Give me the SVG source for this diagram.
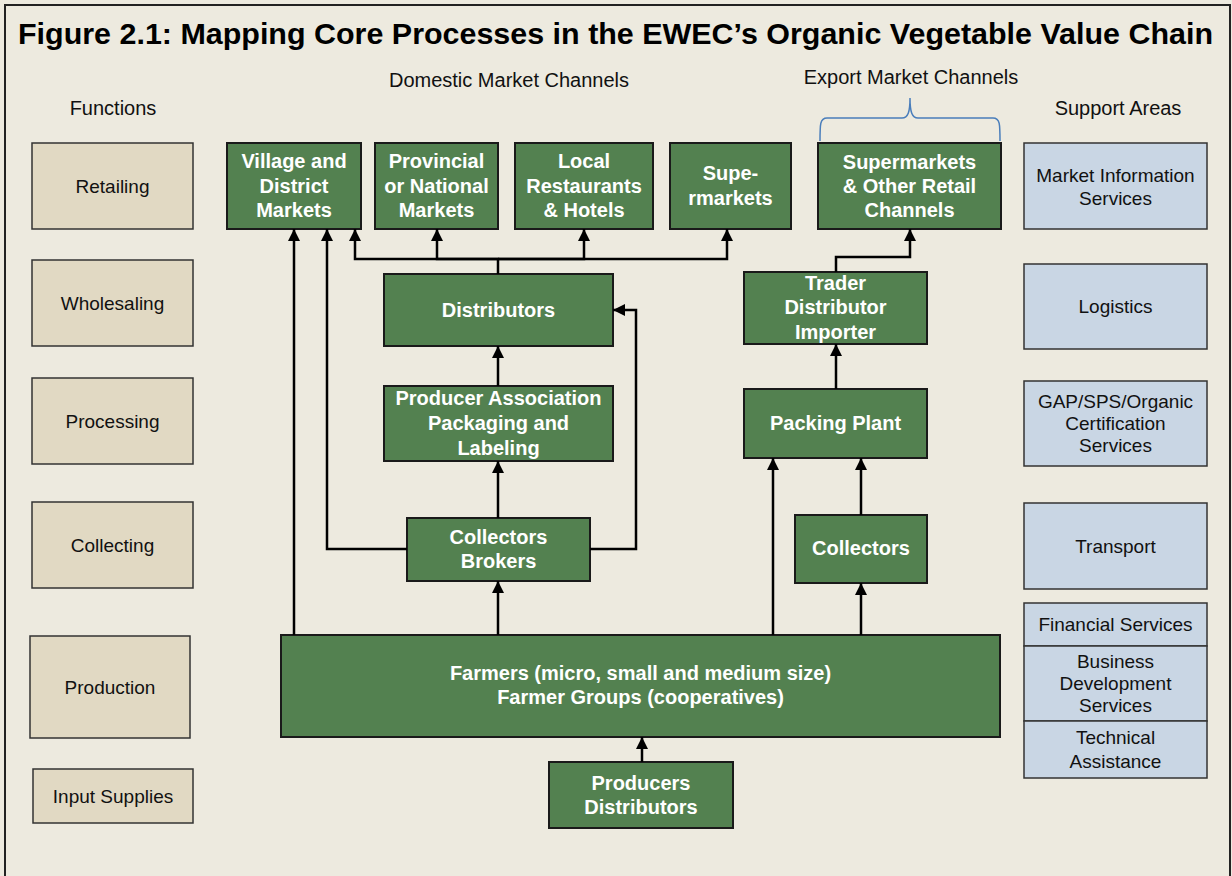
<svg xmlns="http://www.w3.org/2000/svg" width="1232" height="876" viewBox="0 0 1232 876">
<defs>
<marker id="ah" markerUnits="userSpaceOnUse" markerWidth="12" markerHeight="12" refX="12" refY="6" orient="auto">
<path d="M0,0 L12,6 L0,12 z" fill="#000"/>
</marker>
<style>
.g rect{fill:#538150;stroke:#1a1a1a;stroke-width:2}
.g text{font-family:"Liberation Sans",Arial,sans-serif;font-weight:bold;font-size:20px;fill:#fff;text-anchor:middle}
.t rect{fill:#E1D9C3;stroke:#333;stroke-width:1.5}
.b rect{fill:#C9D6E4;stroke:#333;stroke-width:1.5}
.t text,.b text,.lbl{font-family:"Liberation Sans",Arial,sans-serif;font-size:19px;fill:#111;text-anchor:middle}
.c path{fill:none;stroke:#000;stroke-width:2.5}
.c path.a{marker-end:url(#ah)}
</style>
</defs>
<rect x="0" y="0" width="1232" height="876" fill="#EDEADF"/>
<rect x="5" y="5" width="1225" height="900" fill="none" stroke="#222" stroke-width="2"/>
<text x="18" y="44" font-family="Liberation Sans,Arial,sans-serif" font-weight="bold" font-size="30" fill="#000" textLength="1195" lengthAdjust="spacingAndGlyphs">Figure 2.1: Mapping Core Processes in the EWEC’s Organic Vegetable Value Chain</text>
<text class="lbl" x="509" y="87" style="font-size:20px">Domestic Market Channels</text>
<text class="lbl" x="911" y="84" style="font-size:20px">Export Market Channels</text>
<text class="lbl" x="113" y="115" style="font-size:20px">Functions</text>
<text class="lbl" x="1118" y="115" style="font-size:20px">Support Areas</text>
<path d="M820,141 C820,124 820,118 827,118 H902 C908,118 910,112 910,98 C910,112 912,118 918,118 H993 C1000,118 1000,124 1000,141" fill="none" stroke="#4A7EBB" stroke-width="1.5"/>

<g id="fn-retailing" class="t"><rect x="32" y="143" width="161" height="86"/><text x="112.5" y="193">Retailing</text></g>
<g id="fn-wholesaling" class="t"><rect x="32" y="260" width="161" height="86"/><text x="112.5" y="310">Wholesaling</text></g>
<g id="fn-processing" class="t"><rect x="32" y="378" width="161" height="86"/><text x="112.5" y="428">Processing</text></g>
<g id="fn-collecting" class="t"><rect x="32" y="502" width="161" height="86"/><text x="112.5" y="552">Collecting</text></g>
<g id="fn-production" class="t"><rect x="30" y="636" width="160" height="102"/><text x="110" y="694">Production</text></g>
<g id="fn-input" class="t"><rect x="33" y="769" width="160" height="54"/><text x="113" y="803">Input Supplies</text></g>

<g id="sa-market-info" class="b"><rect x="1024" y="143" width="183" height="86"/><text x="1115.5" y="182">Market Information</text><text x="1115.5" y="205">Services</text></g>
<g id="sa-logistics" class="b"><rect x="1024" y="264" width="183" height="85"/><text x="1115.5" y="313">Logistics</text></g>
<g id="sa-gap" class="b"><rect x="1024" y="381" width="183" height="85"/><text x="1115.5" y="408">GAP/SPS/Organic</text><text x="1115.5" y="430">Certification</text><text x="1115.5" y="452">Services</text></g>
<g id="sa-transport" class="b"><rect x="1024" y="503" width="183" height="86"/><text x="1115.5" y="553">Transport</text></g>
<g id="sa-financial" class="b"><rect x="1024" y="603" width="183" height="43"/><text x="1115.5" y="631">Financial Services</text></g>
<g id="sa-bds" class="b"><rect x="1024" y="646" width="183" height="75"/><text x="1115.5" y="668">Business</text><text x="1115.5" y="690">Development</text><text x="1115.5" y="712">Services</text></g>
<g id="sa-ta" class="b"><rect x="1024" y="721" width="183" height="57"/><text x="1115.5" y="744">Technical</text><text x="1115.5" y="768">Assistance</text></g>

<g id="village" class="g"><rect x="227" y="143" width="134" height="86"/><text x="294" y="168">Village and</text><text x="294" y="193">District</text><text x="294" y="217">Markets</text></g>
<g id="provincial" class="g"><rect x="375" y="143" width="123" height="86"/><text x="436.5" y="168">Provincial</text><text x="436.5" y="193">or National</text><text x="436.5" y="217">Markets</text></g>
<g id="local" class="g"><rect x="515" y="143" width="138" height="86"/><text x="584" y="168">Local</text><text x="584" y="193">Restaurants</text><text x="584" y="217">&amp; Hotels</text></g>
<g id="supermarkets-dom" class="g"><rect x="670" y="143" width="121" height="86"/><text x="730.5" y="180">Supe-</text><text x="730.5" y="205">rmarkets</text></g>
<g id="supermarkets-exp" class="g"><rect x="818" y="143" width="183" height="86"/><text x="909.5" y="169">Supermarkets</text><text x="909.5" y="193">&amp; Other Retail</text><text x="909.5" y="217">Channels</text></g>
<g id="distributors" class="g"><rect x="384" y="274" width="229" height="72"/><text x="498.5" y="317">Distributors</text></g>
<g id="trader" class="g"><rect x="744" y="272" width="183" height="72"/><text x="835.5" y="290">Trader</text><text x="835.5" y="314">Distributor</text><text x="835.5" y="339">Importer</text></g>
<g id="producer-assoc" class="g"><rect x="384" y="386" width="229" height="75"/><text x="498.5" y="405">Producer Association</text><text x="498.5" y="430">Packaging and</text><text x="498.5" y="455">Labeling</text></g>
<g id="packing" class="g"><rect x="744" y="389" width="183" height="69"/><text x="835.5" y="430">Packing Plant</text></g>
<g id="collectors-brokers" class="g"><rect x="407" y="518" width="183" height="63"/><text x="498.5" y="544">Collectors</text><text x="498.5" y="568">Brokers</text></g>
<g id="collectors" class="g"><rect x="795" y="515" width="132" height="68"/><text x="861" y="555">Collectors</text></g>
<g id="farmers" class="g"><rect x="281" y="635" width="719" height="102"/><text x="640.5" y="680">Farmers (micro, small and medium size)</text><text x="640.5" y="704">Farmer Groups (cooperatives)</text></g>
<g id="producers" class="g"><rect x="549" y="762" width="184" height="66"/><text x="641" y="790">Producers</text><text x="641" y="814">Distributors</text></g>

<g id="connectors" class="c">
<path class="a" d="M294,635 V229"/>
<path class="a" d="M407,549 H327 V229"/>
<path class="a" d="M498,274 V259 H355 V229"/>
<path class="a" d="M498,259 H437 V229"/>
<path class="a" d="M498,259 H584 V229"/>
<path class="a" d="M498,259 H727 V229"/>
<path class="a" d="M590,549 H636 V310 H613"/>
<path class="a" d="M498,386 V346"/>
<path class="a" d="M498,518 V461"/>
<path class="a" d="M498,635 V581"/>
<path class="a" d="M836,272 V257 H910 V229"/>
<path class="a" d="M836,389 V344"/>
<path class="a" d="M773,635 V458"/>
<path class="a" d="M861,515 V458"/>
<path class="a" d="M861,635 V583"/>
<path class="a" d="M642,762 V737"/>
</g>
</svg>
